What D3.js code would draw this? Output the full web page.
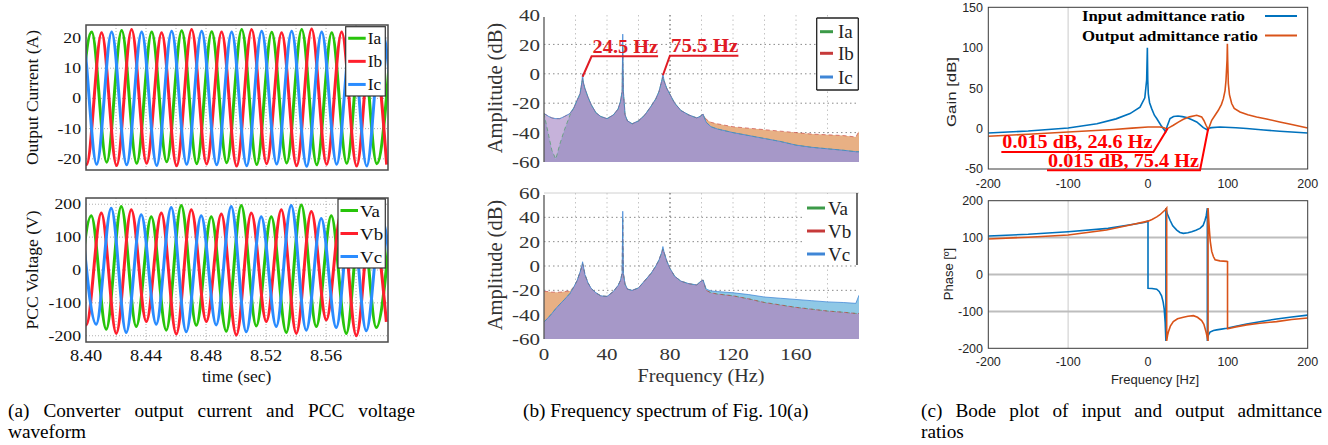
<!DOCTYPE html>
<html><head><meta charset="utf-8">
<script src="https://cdn.jsdelivr.net/npm/d3@7"></script>
<style>html,body{margin:0;padding:0;background:#fff;overflow:hidden}</style>
</head><body>
<svg id="chart" width="1328" height="445"></svg>
<script>
// ===================== DATA =====================
// (a) time-domain waveforms: successive extrema (alternating), half a 50 Hz period apart
const timeTicks = [8.40, 8.44, 8.48, 8.52, 8.56];
const timeTickLabels = ["8.40", "8.44", "8.48", "8.52", "8.56"];
const timeGrid = [8.42, 8.44, 8.46, 8.48, 8.50, 8.52, 8.54, 8.56, 8.58];
const currentTicks = [20, 10, 0, -10, -20];
const voltageTicks = [200, 100, 0, -100, -200];
const halfPeriod = 0.01;
const iaStart = 8.3938, ibStart = 8.3904, icStart = 8.3871;
const iaExtrema = [-21.5, 22.0, -21.1, 22.5, -21.5, 22.0, -21.0, 22.4, -21.6, 22.1, -21.3, 22.8, -21.9, 21.9, -21.4, 22.8, -22.0, 21.7, -21.5, 22.4, -21.6, 22.3];
const ibExtrema = [21.8, -21.9, 21.7, -22.2, 22.8, -21.5, 21.7, -22.3, 22.8, -21.7, 22.0, -22.4, 22.8, -21.6, 21.7, -22.3, 23.0, -21.8, 22.0, -22.4, 22.6, -21.9];
const icExtrema = [-21.8, 22.0, -21.8, 22.0, -22.0, 22.0, -22.2, 22.2, -21.8, 22.2, -22.0, 22.0, -22.3, 22.2, -21.7, 22.2, -22.5, 22.0, -21.8, 22.3, -22.4, 22.0, -21.9];
const vaStart = 8.3935, vbStart = 8.3902, vcStart = 8.3968;
const vaExtrema = [-170, 165, -180, 193, -172, 162, -183, 196, -168, 162, -186, 196, -170, 162, -190, 198, -172, 165, -193, 190, -175, 165];
const vbExtrema = [175, -167, 173, -193, 183, -157, 173, -195, 183, -157, 170, -198, 173, -157, 183, -193, 178, -152, 175, -200, 175, -158];
const vcExtrema = [170, -165, 188, -190, 168, -165, 190, -188, 165, -167, 193, -188, 162, -172, 196, -183, 157, -175, 193, -185, 160, -180];

// (b) spectra (dB)
const specFreq = [0,3,5,7.5,10,13,16.5,19,21,22.9,24,24.5,25,26,28,30,33,36,40,44,47,48.5,49.6,50,50.4,51.5,53,56,60,64,68,71,73,74.7,75.5,76.3,78,80,83,87,92,97,99,101,103,106,110,120,130,140,150,160,170,180,190,198,200];
const iaSpec = [-27,-42,-52,-58,-48,-38,-28,-23,-18,-13.5,-6,-3,-6,-10,-16,-21,-26.5,-29,-30.5,-28,-24,-19,-12,20,-12,-28,-32,-34,-32,-28,-22,-17,-12,-5,-2,-5,-10,-14,-20,-25,-28,-30,-29,-27.5,-33,-36,-37.5,-40,-42,-44,-46,-48.5,-50,-51,-52,-53,-53];
const ibSpec = [-27,-29,-30,-30.5,-30.5,-29,-27,-23,-18,-13.5,-6,-3,-6,-10,-16,-21,-26.5,-29,-30.5,-28,-24,-19,-12,18,-12,-28,-32,-34,-32,-28,-22,-17,-12,-5,-2,-5,-10,-14,-20,-25,-28,-30,-29,-27.5,-31,-33,-34,-36,-37,-38,-39,-40,-41,-41.5,-42,-43,-39];
const icSpec = [-27,-29,-30,-30.5,-30.5,-29,-27,-23,-18,-13.5,-6,0,-6,-10,-16,-21,-26.5,-29,-30.5,-28,-24,-19,-12,27,-12,-28,-32,-34,-32,-28,-22,-17,-12,-5,0,-5,-10,-14,-20,-25,-28,-30,-29,-27.5,-33,-36,-37.5,-40,-42,-44,-46,-48.5,-50,-51,-52,-53,-53];
const vaSpec = [-46,-42,-39,-35,-31.5,-27.5,-22.5,-17,-12,-5,0,2,0,-7,-14,-18.5,-22,-24.5,-25,-21,-16,-12,-6,40,-6,-15,-19,-20,-18,-12,-6,0,5,11,14,11,4,-2,-8.5,-12.5,-14.5,-15.6,-13,-11.5,-20,-22,-23,-24.5,-27,-30,-32,-34,-35.5,-37,-38,-39,-39];
const vbSpec = [-21,-21,-21.5,-21.5,-21.5,-21,-20.5,-17,-12,-5,0,2,0,-7,-14,-18.5,-22,-24.5,-25,-21,-16,-12,-6,38,-6,-15,-19,-20,-18,-12,-6,0,5,11,14,11,4,-2,-8.5,-12.5,-14.5,-15.6,-13,-11.5,-20,-22,-23,-24.5,-27,-30,-32,-34,-35.5,-37,-38,-39,-39];
const vcSpec = [-46,-42,-39,-35,-31.5,-27.5,-22.5,-17,-12,-5,0,3.5,0,-7,-14,-18.5,-22,-24.5,-25,-21,-16,-12,-6,45,-6,-15,-19,-20,-18,-12,-6,0,5,11,16,11,4,-2,-8.5,-12.5,-14.5,-15.6,-13,-11.5,-19,-20.5,-21,-22,-23.5,-25.5,-26.5,-27.5,-28.5,-29.5,-30,-30.7,-24];
const specFreqTicks = [0, 40, 80, 120, 160];
const specFreqGrid = [20, 40, 60, 80, 100, 120, 140, 160, 180];
const specTopTicks = [40, 20, 0, -20, -40, -60];
const specBotTicks = [60, 40, 20, 0, -20, -40, -60];
const specAnnot = [{f: 24.5, db: -2, label: "24.5 Hz"}, {f: 75.5, db: -1, label: "75.5 Hz"}];

// (c) Bode plot
const gainInF = [-200,-150,-100,-64,-40,-22.5,-10,-4,-1.7,-0.8,-0.3,0.4,2,4.6,8,10.9,14,17,20,22,24,27.6,32,37.6,43,48.4,55,61,65,69.3,73.5,76,79.8,90,110,123.6,145,165,185,200];
const gainIn = [-5.4,-3,0.7,6,12,18.5,26.5,38,60,100,60,43,32,24.7,16.5,12.4,7.5,2.8,-1,-4.2,3,12.4,15,15.6,14.8,13.6,11,8.2,5,1.2,-1.2,0.5,1.2,2,1,0,-1.8,-3.3,-4.6,-5.4];
const gainOutF = [-200,-150,-100,-43,-20,0,15,20,23.4,27,31.7,38,44.3,52,61,67.2,70,72.7,75.6,77.5,79.8,84,88.1,92,94.4,96.5,97.7,99,99.4,99.8,100.6,102,104.8,108,115.2,125,136,150,165,180,200];
const gainOut = [-9.5,-7,-4.2,-1.2,0.5,2,2,1,-0.4,1.5,4.1,8,11.5,14.5,16.5,14.4,10,4.1,-1.2,4,10.3,16.5,22.6,30,37,47,60,85,105,85,55.7,42,31,25,20.5,17,14.4,11.5,8.2,5,0.8];
const phaseInF = [-200,-150,-100,-50,-20,-5,0,0,5,10.9,14,17,19,20.3,21.5,22.4,22.4,24,27.6,31,36,40,44.3,50,54.7,60,65.1,69,71.4,73,74.3,74.3,75.5,77.7,82,86,92,98.6,110,123.6,140,161,180,200];
const phaseIn = [104.5,109,116,125,135.7,141,144.6,-37.5,-38,-40,-46,-58,-75,-94,-130,-180,180,165,147,132,120.5,114,111.6,113,116,120,125,133,147,160,180,-180,-165,-156,-152,-150,-148,-145.5,-140,-134,-128,-120.5,-115,-110];
const phaseOutF = [-200,-150,-100,-52,-22.5,0,5,11,15,19,22,23.4,23.4,24.5,25.5,28,31.7,37,44.3,50,56.8,62,67.2,70,72.7,74,75.2,75.2,76,76.9,78,79.8,82,84,90,98.6,99.6,99.6,102.8,110,123.6,140,161,180,200];
const phaseOut = [96.4,101,107,120.5,134,144.6,149,156,162,170,176,180,-180,-165,-156,-140,-127.7,-120,-116,-113,-111.6,-116,-125,-135,-156,-168,-180,180,150,120,90,62.5,48,40,37,35.7,35,-147,-145.5,-142,-136.6,-132,-127.7,-122,-118];
const bodeFreqTicks = [-200, -100, 0, 100, 200];
const gainTicks = [150, 100, 50, 0, -50];
const phaseTicks = [200, 100, 0, -100, -200];
const phaseGrid = [100, 0, -100];
const bodeLegend = ["Input admittance ratio", "Output admittance ratio"];
const bodeAnnot = [{f: 24.6, db: 0.015, label: "0.015 dB, 24.6 Hz"}, {f: 75.4, db: 0.015, label: "0.015 dB, 75.4 Hz"}];

const captions = [
  {lines: ["(a) Converter output current and PCC voltage", "waveform"]},
  {lines: ["(b) Frequency spectrum of Fig. 10(a)"]},
  {lines: ["(c) Bode plot of input and output admittance", "ratios"]}
];

// ===================== DRAW =====================
const svg = d3.select("#chart");
const SERIF = "'Liberation Serif','Times New Roman',serif";
const SANS = "'Liberation Sans',Arial,Helvetica,sans-serif";
const defs = svg.append("defs");
function clip(id, x0, y0, x1, y1) {
  defs.append("clipPath").attr("id", id).append("rect").attr("x", x0).attr("y", y0).attr("width", x1 - x0).attr("height", y1 - y0);
  return `url(#${id})`;
}
function T(g, x, y, str, o = {}) {
  let tr = `translate(${x},${y})`;
  if (o.rotate) tr += ` rotate(${o.rotate})`;
  if (o.sx) tr += ` scale(${o.sx},1)`;
  const t = g.append("text").attr("transform", tr)
    .attr("font-family", o.family || SERIF).attr("font-size", o.size || 14)
    .attr("font-weight", o.weight || "normal").attr("fill", o.fill || "#111")
    .attr("text-anchor", o.anchor || "start").text(str);
  if (o.dy) t.attr("dy", o.dy);
  if (o.w) t.attr("textLength", o.w).attr("lengthAdjust", "spacingAndGlyphs");
  return t;
}

// ---------- Panel (a) ----------
const xA = d3.scaleLinear().domain([8.40, 8.6013]).range([86, 388]);
const yI = d3.scaleLinear().domain([-23.7, 24.3]).range([170, 25]);
const yV = d3.scaleLinear().domain([-219, 219]).range([342, 198]);
const colA = {a: "#28c40a", b: "#ff1f2d", c: "#2a8cff"};

function wavePanel(yS, ticks, series, clipId, legendLabels, legendBox, legendFont) {
  const [x0, x1] = xA.range(); const [y1, y0] = yS.range();
  const g = svg.append("g");
  g.selectAll(".vg").data(timeGrid).join("line")
    .attr("x1", d => xA(d)).attr("x2", d => xA(d)).attr("y1", y0).attr("y2", y1)
    .attr("stroke", "#9a9a9a").attr("stroke-width", 0.8).attr("stroke-dasharray", "1,2");
  g.selectAll(".hg").data(ticks).join("line")
    .attr("x1", x0).attr("x2", x1).attr("y1", d => yS(d)).attr("y2", d => yS(d))
    .attr("stroke", "#9a9a9a").attr("stroke-width", 0.8).attr("stroke-dasharray", "1,2");
  const cp = clip(clipId, x0, y0, x1, y1);
  const line = d3.line().x(d => xA(d.t)).y(d => yS(d.v)).curve(d3.curveMonotoneX);
  const pg = g.append("g").attr("clip-path", cp);
  series.forEach(s => {
    const pts = s.vals.map((v, k) => ({t: s.start + k * halfPeriod, v}));
    pg.append("path").attr("d", line(pts)).attr("fill", "none").attr("stroke", s.color).attr("stroke-width", 3);
  });
  g.append("rect").attr("x", x0).attr("y", y0).attr("width", x1 - x0).attr("height", y1 - y0)
    .attr("fill", "none").attr("stroke", "#4a4a4a").attr("stroke-width", 1.5);
  ticks.forEach(v => T(g, 81, yS(v), String(v), {size: 14.5, anchor: "end", dy: "0.35em", sx: 1.22}));
  const [bx0, by0, bx1, by1] = legendBox;
  g.append("rect").attr("x", bx0).attr("y", by0).attr("width", bx1 - bx0).attr("height", by1 - by0)
    .attr("fill", "#fff").attr("stroke", "#333").attr("stroke-width", 1.2);
  const n = series.length; const step = (by1 - by0) / n;
  series.forEach((s, i) => {
    const yy = by0 + step * (i + 0.5);
    g.append("line").attr("x1", bx0 + 2.5).attr("x2", bx0 + 20).attr("y1", yy).attr("y2", yy)
      .attr("stroke", s.color).attr("stroke-width", 3);
    T(g, bx0 + 22, yy, legendLabels[i], {size: legendFont, dy: "0.36em", sx: 1.08});
  });
  return g;
}
wavePanel(yI, currentTicks, [
  {start: iaStart, vals: iaExtrema, color: colA.a},
  {start: ibStart, vals: ibExtrema, color: colA.b},
  {start: icStart, vals: icExtrema, color: colA.c}
], "clipAI", ["Ia", "Ib", "Ic"], [345.7, 26.7, 385.3, 96], 16);
wavePanel(yV, voltageTicks, [
  {start: vaStart, vals: vaExtrema, color: colA.a},
  {start: vbStart, vals: vbExtrema, color: colA.b},
  {start: vcStart, vals: vcExtrema, color: colA.c}
], "clipAV", ["Va", "Vb", "Vc"], [338, 199, 385.3, 268], 17.5);
timeTicks.forEach((t, i) => T(svg, xA(t), 361, timeTickLabels[i], {size: 17, anchor: "middle", sx: 1.08}));
T(svg, 236.7, 381.5, "time (sec)", {size: 17.5, anchor: "middle"});
T(svg, 32, 97.5, "Output Current (A)", {size: 17.5, anchor: "middle", rotate: -90, dy: "0.35em"});
T(svg, 32, 270, "PCC Voltage (V)", {size: 17.5, anchor: "middle", rotate: -90, dy: "0.35em"});

// ---------- Panel (b) ----------
const xB = d3.scaleLinear().domain([0, 200]).range([544, 859]);
const colFill = {G: "#b7dba6", R: "#e8b084", B: "#8fc8e6", RG: "#e8b084", BG: "#8fc8e6", RB: "#c6b2da", ALL: "#a698c8"};
const colStroke = {G: "#3c9a48", R: "#c63a3a", B: "#3f86d6"};

function specPanel(yS, ticks, G, R, B, clipId, legendLabels, legendCfg) {
  const [x0, x1] = xB.range(); const [y1, y0] = yS.range();
  const g = svg.append("g");
  const cp = clip(clipId, x0, y0 - 2, x1, y1);
  g.selectAll(".vg").data(specFreqGrid).join("line")
    .attr("x1", d => xB(d)).attr("x2", d => xB(d)).attr("y1", y0).attr("y2", y1)
    .attr("stroke", d => d === 80 ? "#666" : "#c4c4c4").attr("stroke-width", d => d === 80 ? 1.2 : 1)
    .attr("stroke-dasharray", "1.5,3");
  g.selectAll(".hg").data(ticks.filter(v => v > yS.domain()[0] && v < yS.domain()[1])).join("line")
    .attr("x1", x0).attr("x2", x1).attr("y1", d => yS(d)).attr("y2", d => yS(d))
    .attr("stroke", "#8a8a8a").attr("stroke-width", 1).attr("stroke-dasharray", "1.5,3");
  const base = yS.domain()[0];
  const idx = specFreq.map((f, i) => i);
  const pg = g.append("g").attr("clip-path", cp);
  const area = (top, bottom) => d3.area().x(i => xB(specFreq[i])).y1(i => yS(top(i))).y0(i => yS(bottom(i)));
  const S = {G, R, B};
  ["G", "R", "B"].forEach(k => pg.append("path").attr("d", area(i => S[k][i], i => base)(idx)).attr("fill", colFill[k]));
  [["R", "G", "B"], ["B", "G", "R"], ["R", "B", "G"]].forEach(([p, q, r]) => {
    const top = i => Math.min(S[p][i], S[q][i]);
    pg.append("path").attr("d", area(top, i => Math.min(S[r][i], top(i)))(idx)).attr("fill", colFill[p + q] || colFill[q + p]);
  });
  pg.append("path").attr("d", area(i => d3.min([G[i], R[i], B[i]]), i => base)(idx)).attr("fill", colFill.ALL);
  const ln = arr => d3.line().x(i => xB(specFreq[i])).y(i => yS(arr[i]));
  pg.append("path").attr("d", ln(G)(idx)).attr("fill", "none").attr("stroke", colStroke.G).attr("stroke-width", 1).attr("stroke-dasharray", "4,3").attr("opacity", 0.55);
  pg.append("path").attr("d", ln(R)(idx)).attr("fill", "none").attr("stroke", colStroke.R).attr("stroke-width", 1).attr("stroke-dasharray", "4,3").attr("opacity", 0.6);
  pg.append("path").attr("d", ln(B)(idx)).attr("fill", "none").attr("stroke", colStroke.B).attr("stroke-width", 1).attr("opacity", 0.75);
  g.append("line").attr("x1", x0).attr("x2", x0).attr("y1", y0 + 2).attr("y2", y1).attr("stroke", "#555").attr("stroke-width", 1.3);
  ticks.forEach(v => T(g, 540, yS(v), String(v), {size: 17.5, anchor: "end", dy: "0.35em", sx: 1.2, fill: "#333"}));
  const {box, lines, lx, tx, edges} = legendCfg;
  g.append("rect").attr("x", box[0]).attr("y", box[1]).attr("width", box[2] - box[0]).attr("height", box[3] - box[1]).attr("fill", "#fff").attr("stroke", "none");
  edges.forEach(e => g.append("line").attr("x1", e[0]).attr("y1", e[1]).attr("x2", e[2]).attr("y2", e[3]).attr("stroke", "#222").attr("stroke-width", 1.3));
  [colStroke.G, colStroke.R, colStroke.B].forEach((c, i) => {
    g.append("line").attr("x1", lx[0]).attr("x2", lx[1]).attr("y1", lines[i]).attr("y2", lines[i]).attr("stroke", c).attr("stroke-width", 3);
    T(g, tx, lines[i], legendLabels[i], {size: 19, dy: "0.35em", fill: "#222"});
  });
  return g;
}
const yBt = d3.scaleLinear().domain([-60, 40]).range([162, 15]);
specPanel(yBt, specTopTicks, iaSpec, ibSpec, icSpec, "clipBT",
  ["Ia", "Ib", "Ic"], {box: [816.7, 18, 858.3, 90], lines: [31.7, 53.3, 77], lx: [820, 833], tx: 838,
  edges: [[816.7, 18, 858.3, 18], [858.3, 18, 858.3, 90], [858.3, 90, 816.7, 90], [816.7, 90, 816.7, 18]]});
const yBb = d3.scaleLinear().domain([-60, 60]).range([339, 193]);
svg.append("line").attr("x1", 544).attr("x2", 859).attr("y1", 193).attr("y2", 193).attr("stroke", "#d0d0d0").attr("stroke-width", 1);
specPanel(yBb, specBotTicks, vaSpec, vbSpec, vcSpec, "clipBB",
  ["Va", "Vb", "Vc"], {box: [805, 194, 857, 264], lines: [208, 231, 254], lx: [807, 825], tx: 828,
  edges: [[857, 193, 857, 265]]});
specFreqTicks.forEach(f => T(svg, xB(f), 360, String(f), {size: 17.5, anchor: "middle", sx: 1.2, fill: "#333"}));
T(svg, 701, 381.5, "Frequency (Hz)", {size: 18, anchor: "middle", sx: 1.12, fill: "#333"});
T(svg, 495, 88, "Amplitude (dB)", {size: 20.5, anchor: "middle", rotate: -90, dy: "0.35em", fill: "#333"});
T(svg, 495, 265, "Amplitude (dB)", {size: 20.5, anchor: "middle", rotate: -90, dy: "0.35em", fill: "#333"});
const annB = [{dx: 9, dy: -20.5, len: 66.5}, {dx: 7, dy: -19.5, len: 68.5}];
specAnnot.forEach((a, i) => {
  const px = xB(a.f), py = yBt(a.db), L = annB[i];
  const ex = px + L.dx, ey = py + L.dy;
  svg.append("path").attr("d", `M${px},${py}L${ex},${ey}L${ex + L.len},${ey}`).attr("fill", "none").attr("stroke", "#e01b24").attr("stroke-width", 2);
  T(svg, ex + 1, ey - 3.5, a.label, {size: 19, weight: "bold", fill: "#e01b24", w: L.len - 1});
});

// ---------- Panel (c) ----------
const xC = d3.scaleLinear().domain([-200, 200]).range([988.3, 1307.7]);
const yG = d3.scaleLinear().domain([-50, 150]).range([169, 7.3]);
const yP = d3.scaleLinear().domain([-200, 200]).range([348.3, 200.7]);
const cIn = "#0072bd", cOut = "#d95319";
function bodeAxes(yS, ticks, clipId, hgrid, xLabelY) {
  const [x0, x1] = xC.range(); const [y1, y0] = yS.range();
  const g = svg.append("g");
  g.append("rect").attr("x", x0).attr("y", y0).attr("width", x1 - x0).attr("height", y1 - y0).attr("fill", "#fff");
  g.append("line").attr("x1", xC(-100)).attr("x2", xC(-100)).attr("y1", y0).attr("y2", y1).attr("stroke", "#dcdcdc").attr("stroke-width", 1.5);
  hgrid.forEach(v => g.append("line").attr("x1", x0).attr("x2", x1).attr("y1", yS(v)).attr("y2", yS(v)).attr("stroke", "#bdbdbd").attr("stroke-width", 2));
  const cp = clip(clipId, x0, y0, x1, y1);
  ticks.forEach(v => T(g, 983, yS(v), String(v), {size: 12.5, family: SANS, anchor: "end", dy: "0.35em", fill: "#262626"}));
  bodeFreqTicks.forEach(f => T(g, xC(f), xLabelY, String(f), {size: 12.5, family: SANS, anchor: "middle", fill: "#262626"}));
  return {g, cp, x0, x1, y0, y1};
}
const GA = bodeAxes(yG, gainTicks, "clipCG", [], 187.5);
const PA = bodeAxes(yP, phaseTicks, "clipCP", phaseGrid, 366);
const lineC = (F, V, yS) => d3.line().x((d, i) => xC(F[i])).y((d, i) => yS(V[i]))(V);
const gp = GA.g.append("g").attr("clip-path", GA.cp);
gp.append("path").attr("d", lineC(gainInF, gainIn, yG)).attr("fill", "none").attr("stroke", cIn).attr("stroke-width", 1.6);
gp.append("path").attr("d", lineC(gainOutF, gainOut, yG)).attr("fill", "none").attr("stroke", cOut).attr("stroke-width", 1.6);
const pp = PA.g.append("g").attr("clip-path", PA.cp);
pp.append("path").attr("d", lineC(phaseInF, phaseIn, yP)).attr("fill", "none").attr("stroke", cIn).attr("stroke-width", 1.6);
pp.append("path").attr("d", lineC(phaseOutF, phaseOut, yP)).attr("fill", "none").attr("stroke", cOut).attr("stroke-width", 1.6);
[GA, PA].forEach(A => A.g.append("rect").attr("x", A.x0).attr("y", A.y0).attr("width", A.x1 - A.x0).attr("height", A.y1 - A.y0)
  .attr("fill", "none").attr("stroke", "#3a3a3a").attr("stroke-width", 1));
[[cIn, 16, 163], [cOut, 35.5, 176]].forEach(([c, yy, w], i) => {
  T(svg, 1082, yy + 5, bodeLegend[i], {size: 15.5, weight: "bold", fill: "#000", w: w});
  svg.append("line").attr("x1", 1265).attr("x2", 1297).attr("y1", yy).attr("y2", yy).attr("stroke", c).attr("stroke-width", 2);
});
T(svg, 951.5, 92, "Gain [dB]", {size: 13, family: SANS, anchor: "middle", rotate: -90, dy: "0.35em", fill: "#262626", w: 70});
T(svg, 948, 274, "Phase [º]", {size: 13, family: SANS, anchor: "middle", rotate: -90, dy: "0.35em", fill: "#262626"});
T(svg, 1155, 384, "Frequency [Hz]", {size: 13, family: SANS, anchor: "middle", fill: "#262626"});
const annC = [{ex: -14.3, ey: 23.4, len: 152, ty: -3.5}, {ex: -8.2, ey: 41.7, len: 153, ty: -3}];
bodeAnnot.forEach((a, i) => {
  const px = xC(a.f), py = yG(a.db), L = annC[i];
  const ex = px + L.ex, ey = py + L.ey;
  svg.append("path").attr("d", `M${px},${py}L${ex},${ey}L${ex - L.len},${ey}`).attr("fill", "none").attr("stroke", "#ff0000").attr("stroke-width", 2);
  T(svg, ex - L.len + 1, ey + L.ty, a.label, {size: 18, weight: "bold", fill: "#ff0000", w: L.len - 2});
});

// ---------- Captions ----------
const capCfg = [{x: 8, w: 407}, {x: 523, w: null}, {x: 921, w: 401}];
const capSx = 1.07;
captions.forEach((c, i) => {
  c.lines.forEach((ln, j) => {
    const t = T(svg, capCfg[i].x, 416.7 + j * 21, ln, {size: 18, sx: capSx, fill: "#000"});
    if (j === 0 && capCfg[i].w) {
      const w = t.node().getComputedTextLength();
      const nSp = ln.split(" ").length - 1;
      t.attr("word-spacing", (capCfg[i].w / capSx - w) / nSp);
    }
  });
});
</script>
</body></html>
